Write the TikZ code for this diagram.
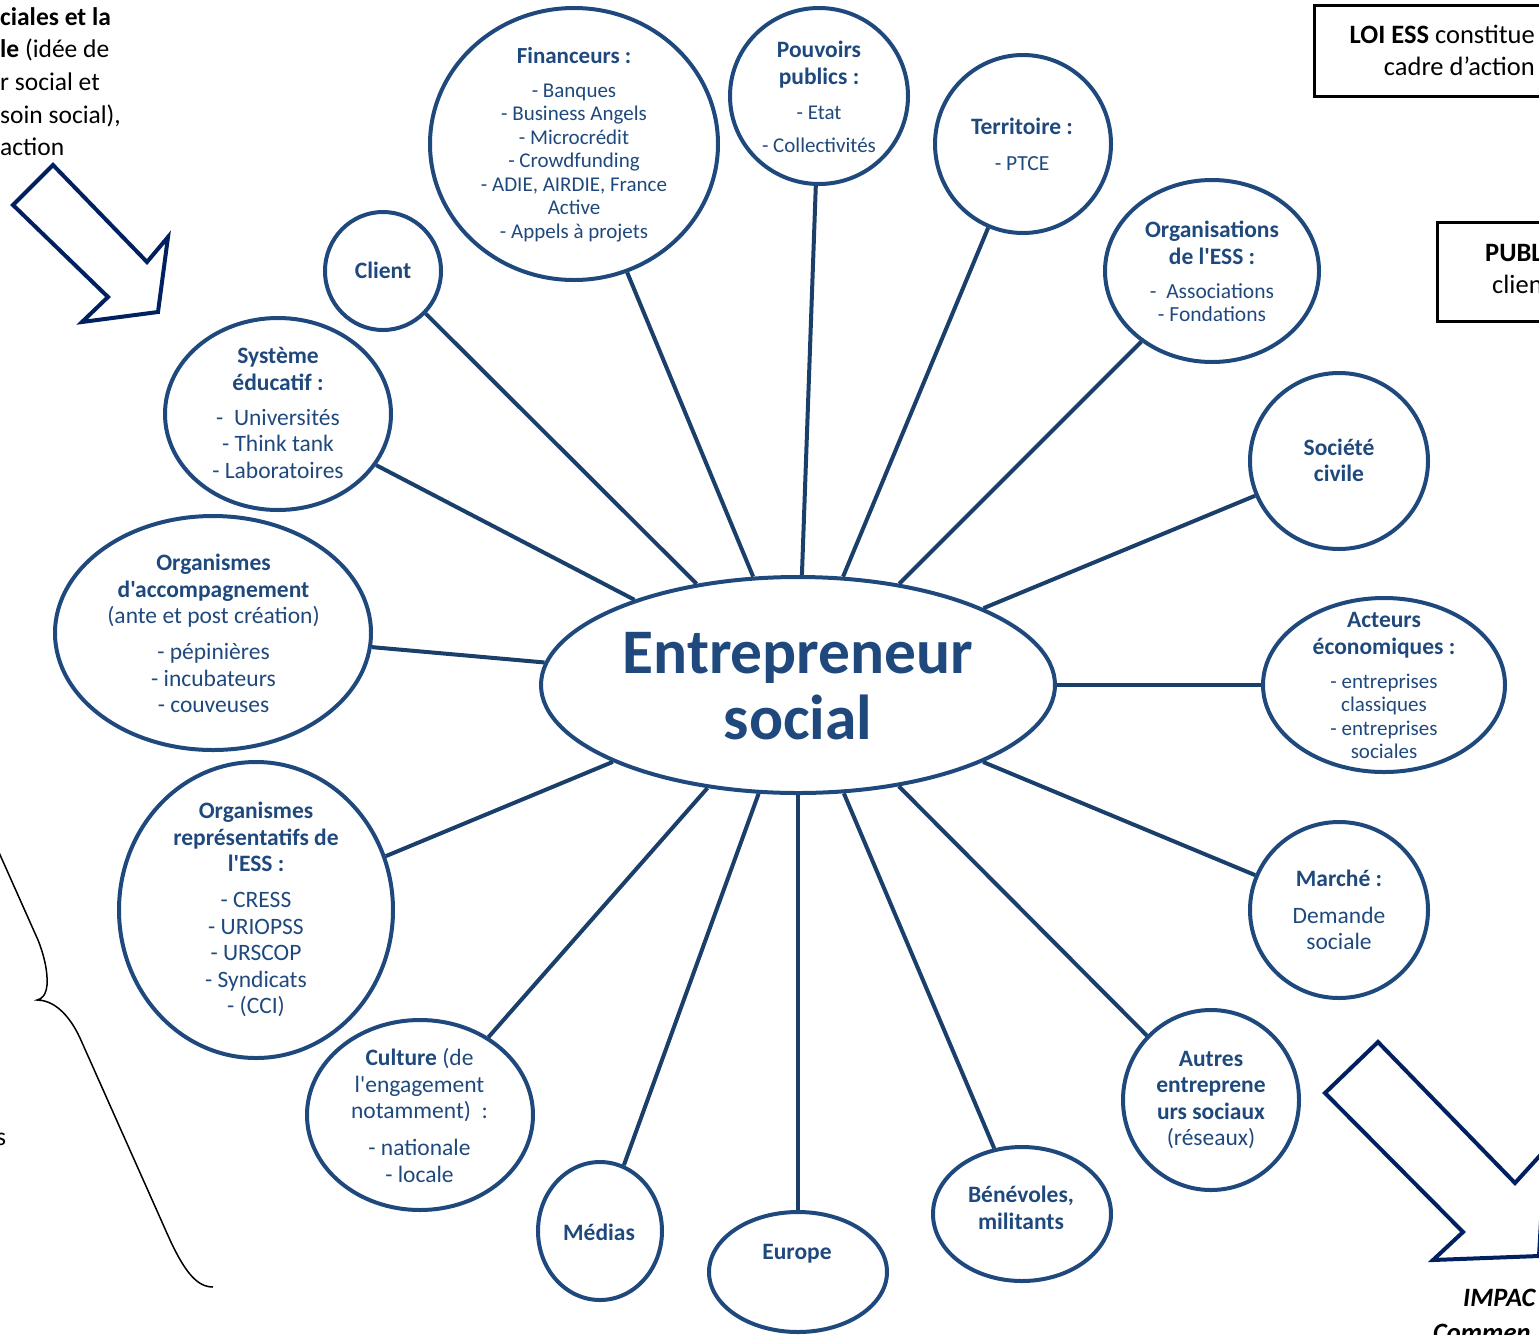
\documentclass[tikz,border=0pt]{standalone}
\usepackage{fontspec}
\setmainfont{Carlito}[Ligatures=TeXOff]
\usetikzlibrary{shapes.geometric}
\definecolor{bubc}{HTML}{1F497D}
\definecolor{txtc}{HTML}{1F497D}
\definecolor{linkc}{HTML}{1B3F6B}
\definecolor{arrc}{HTML}{002060}
\newcommand\tb[1]{{\fontsize{23.5}{28}\selectfont\bfseries #1}}
\begin{document}
\begin{tikzpicture}[x=1pt,y=-1pt,
 bub/.style={ellipse,draw=bubc,line width=4pt,inner sep=0pt},
 txt/.style={text=txtc,align=center,inner sep=0pt},
 link/.style={draw=linkc,line width=4pt},
 blk/.style={text=black,inner sep=0pt,font=\fontsize{25.5}{28}\selectfont},
 blkbig/.style={text=black,inner sep=0pt,font=\fontsize{26.5}{28}\selectfont},
 bigarrow/.style={draw=arrc,line width=4pt,line join=miter},
 tbox/.style={draw=black,line width=3pt}]
\useasboundingbox (0,0) rectangle (1539,1334);

% bubbles
\node[bub,minimum width=514pt,minimum height=216pt] (ent) at (798,685) {};
\node[bub,minimum width=288pt,minimum height=272pt] (fin) at (574,144) {};
\node[bub,minimum width=178pt,minimum height=176pt] (pou) at (819,96) {};
\node[bub,minimum width=176pt,minimum height=178pt] (ter) at (1023,144) {};
\node[bub,minimum width=214pt,minimum height=182pt] (org) at (1212,271) {};
\node[bub,minimum width=178pt,minimum height=176pt] (soc) at (1339,461) {};
\node[bub,minimum width=242pt,minimum height=174pt] (act) at (1384,685) {};
\node[bub,minimum width=178pt,minimum height=176pt] (mar) at (1339,910) {};
\node[bub,minimum width=176pt,minimum height=180pt] (aut) at (1211,1100) {};
\node[bub,minimum width=178pt,minimum height=134pt] (ben) at (1022,1214) {};
\node[bub,minimum width=178pt,minimum height=120pt] (eur) at (798,1272) {};
\node[bub,minimum width=124pt,minimum height=138pt] (med) at (600,1231) {};
\node[bub,minimum width=226pt,minimum height=190pt] (cul) at (420,1115) {};
\node[bub,minimum width=274pt,minimum height=296pt] (rep) at (256,910) {};
\node[bub,minimum width=316pt,minimum height=234pt] (acc) at (213,633) {};
\node[bub,minimum width=226pt,minimum height=192pt] (sys) at (278,414) {};
\node[bub,minimum width=116pt,minimum height=118pt] (cli) at (383,271) {};

% connectors
\foreach \n in {cli,fin,pou,ter,org,soc,act,mar,aut,ben,eur,med,cul,rep,acc,sys}
  \draw[link] (ent) -- (\n);

% texts
\node[txt,font=\fontsize{63.5}{66}\selectfont\bfseries] (entT) at (798,686) {Entrepreneur\\social};
\node[txt,font=\fontsize{21}{23.5}\selectfont] (finT) at (574,144.5)
 {{\fontsize{23}{23.5}\selectfont\bfseries Financeurs :}\\[10.5pt]- Banques\\- Business Angels\\- Microcrédit\\- Crowdfunding\\- ADIE, AIRDIE, France\\Active\\- Appels à projets};
\node[txt,font=\fontsize{21}{27}\selectfont] (pouT) at (819,96.5)
 {\tb{Pouvoirs}\\\tb{publics :}\\[8pt]- Etat\\[6pt]- Collectivités};
\node[txt,font=\fontsize{21.5}{27}\selectfont] (terT) at (1022,144)
 {\tb{Territoire :}\\[9pt]- PTCE};
\node[txt,font=\fontsize{21.5}{23}\selectfont] (orgT) at (1212,271)
 {\tb{Organisations}\\[4pt]\tb{de l'ESS :}\\[11pt]-\ \ Associations\\- Fondations};
\node[txt,font=\fontsize{23.5}{26}\selectfont\bfseries] (socT) at (1339,460) {Société\\civile};
\node[txt,font=\fontsize{21}{23.5}\selectfont] (actT) at (1384,685.5)
 {\tb{Acteurs}\\[3.5pt]\tb{économiques :}\\[10.5pt]- entreprises\\classiques\\- entreprises\\sociales};
\node[txt,font=\fontsize{23.5}{26}\selectfont] (marT) at (1339,909.5)
 {\tb{Marché :}\\[11pt]Demande\\sociale};
\node[txt,font=\fontsize{23.5}{26.3}\selectfont] (autT) at (1211,1100)
 {\tb{Autres}\\\tb{entreprene}\\\tb{urs sociaux}\\(réseaux)};
\node[txt,font=\fontsize{23.5}{27}\selectfont\bfseries] (benT) at (1021,1208) {Bénévoles,\\militants};
\node[txt,font=\fontsize{23.5}{27}\selectfont\bfseries] (eurT) at (797,1254) {Europe};
\node[txt,font=\fontsize{23.5}{27}\selectfont\bfseries] (medT) at (599,1232) {Médias};
\node[txt,font=\fontsize{23.5}{26.5}\selectfont] (culT) at (419.5,1115.5)
 {\tb{Culture} (de\\l'engagement\\notamment)\ \ :\\[10.5pt]- nationale\\- locale};
\node[txt,font=\fontsize{23.5}{26.5}\selectfont] (repT) at (256,909.5)
 {\tb{Organismes}\\\tb{représentatifs de}\\\tb{l'ESS :}\\[9.5pt]- CRESS\\- URIOPSS\\- URSCOP\\- Syndicats\\- (CCI)};
\node[txt,font=\fontsize{23.5}{26.5}\selectfont] (accT) at (213.5,633.5)
 {\tb{Organismes}\\\tb{d'accompagnement}\\(ante et post création)\\[9.5pt]- pépinières\\- incubateurs\\- couveuses};
\node[txt,font=\fontsize{23.5}{26.5}\selectfont] (sysT) at (278,413)
 {\tb{Système}\\\tb{éducatif :}\\[8.5pt]-\ \ Universités\\- Think tank\\- Laboratoires};
\node[txt,font=\fontsize{23.5}{27}\selectfont\bfseries] (cliT) at (383,270.5) {Client};

% block arrows
\draw[bigarrow] (53,165) -- (147,262) -- (168,237) -- (158,312) -- (82,322) -- (108,297) -- (13,205) -- cycle;
\draw[bigarrow] (1378,1042) -- (1515,1183) -- (1545,1150) -- (1539,1256) -- (1433,1260) -- (1463,1232) -- (1325,1093) -- cycle;

% boxes
\draw[tbox] (1314,5) rectangle (1550,96);
\draw[tbox] (1437,222) rectangle (1550,321);
\node[blkbig,anchor=east] (loi1) at (1535,34) {\textbf{LOI ESS} constitue};
\node[blkbig,anchor=east] (loi2) at (1535,66) {cadre d’action};
\node[blkbig,anchor=base west] (pub1) at (1485,261) {\textbf{PUBL}};
\node[blkbig,anchor=base west] (pub2) at (1492,293) {clien};

% top-left text fragments
\node[blk,anchor=base west] (tl1) at (0,25) {\textbf{ciales et la}};
\node[blk,anchor=base west] (tl2) at (0,57) {\textbf{le} (idée de};
\node[blk,anchor=base west] (tl3) at (0,90) {r social et};
\node[blk,anchor=base west] (tl4) at (0,123) {soin social),};
\node[blk,anchor=base west] (tl5) at (0,155) {action};

% bottom fragments
\node[blk,anchor=base west] (bs) at (-4,1145) {s};
\node[blkbig,anchor=base west] (imp1) at (1463,1306) {\textbf{\textit{IMPAC}}};
\node[blkbig,anchor=base west] (imp2) at (1433,1341) {\textbf{\textit{Commen}}};

% brace
\draw[black,line width=1.5pt] (-3,848) -- (38,940) .. controls (44,955) and (48,972) .. (47,985)
  .. controls (46,995) and (42,999) .. (37,1000)
  .. controls (52,1000) and (68,1012) .. (80,1038) -- (170,1240)
  .. controls (185,1272) and (197,1287) .. (213,1287);
\end{tikzpicture}
\end{document}
